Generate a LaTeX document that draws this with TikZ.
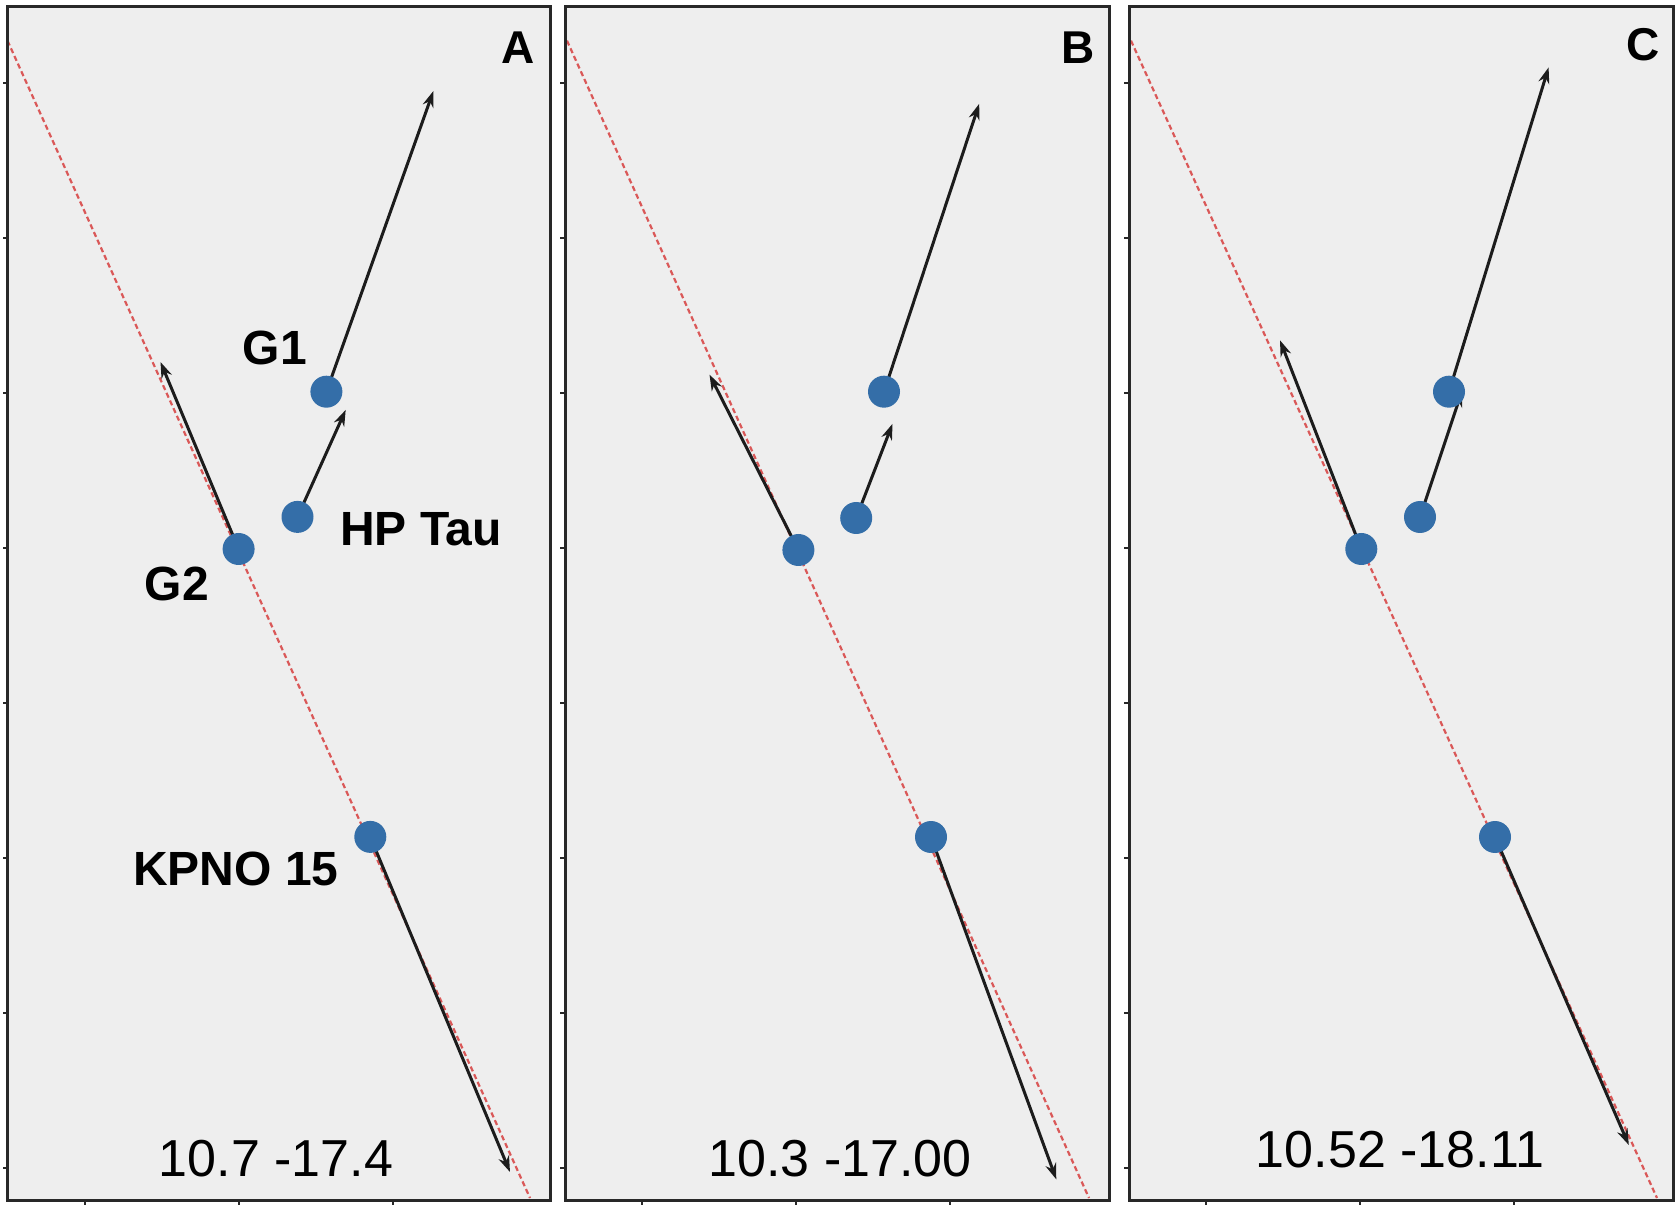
\documentclass[tikz,border=0pt]{standalone}
\usepackage{fontspec}
\setmainfont{Liberation Sans}
\usetikzlibrary{arrows.meta}
\definecolor{panelbg}{RGB}{238,238,238}
\definecolor{dotblue}{RGB}{52,110,168}
\definecolor{fitred}{RGB}{218,88,88}
\definecolor{vecgray}{RGB}{28,28,28}
\definecolor{framecol}{RGB}{40,40,40}
\begin{document}
\begin{tikzpicture}[x=0.5pt,y=-0.5pt,
  panelfill/.style={fill=panelbg},
  panelframe/.style={draw=framecol,line width=1.5pt},
  fitline/.style={fitred,line width=1.1pt,dash pattern=on 2.6pt off 1.6pt},
  vec/.style={vecgray,line width=1.5pt,-{Stealth[length=8pt,width=5.5pt]}},
  star/.style={circle,fill=dotblue,minimum size=16pt,inner sep=0pt},
  objname/.style={font=\fontsize{24}{28}\selectfont\bfseries,inner sep=0pt},
  coordtxt/.style={font=\fontsize{26}{30}\selectfont,inner sep=0pt},
  paneltag/.style={font=\fontsize{23}{27}\selectfont\bfseries,inner sep=0pt},
  tickmark/.style={framecol,line width=1pt}]
\useasboundingbox (0,0) rectangle (1678,1208);

% panel backgrounds
\fill[panelfill] (7.5,6.5) rectangle (550,1200);
\fill[panelfill] (565,6.5) rectangle (1109,1200);
\fill[panelfill] (1129,6.5) rectangle (1673,1200);

% fitted (dashed) lines
\coordinate (lA1) at (7.5,40.7);   \coordinate (lA2) at (530,1198);
\coordinate (lB1) at (567,40.7);   \coordinate (lB2) at (1089,1198);
\coordinate (lC1) at (1131,40.7);  \coordinate (lC2) at (1657,1198);
\draw[fitline] (lA1) -- (lA2);
\draw[fitline] (lB1) -- (lB2);
\draw[fitline] (lC1) -- (lC2);

% ---------- Panel A ----------
\coordinate (g1A) at (326.4,391.7);  \coordinate (g1Aend) at (433.4,91);
\coordinate (hpA) at (297.5,516.9);  \coordinate (hpAend) at (345.7,409.9);
\coordinate (g2A) at (238.6,549);    \coordinate (g2Aend) at (160.5,362);
\coordinate (kpA) at (370.3,836.9);  \coordinate (kpAend) at (510,1172);
\draw[vec] (g1A) -- (g1Aend);
\draw[vec] (hpA) -- (hpAend);
\draw[vec] (g2A) -- (g2Aend);
\draw[vec] (kpA) -- (kpAend);
\node[star] (G1A) at (g1A) {};
\node[star] (HPA) at (hpA) {};
\node[star] (G2A) at (g2A) {};
\node[star] (KPA) at (kpA) {};
\node[objname] (tG1) at (275,348) {G1};
\node[objname] (tHP) at (421,529) {HP Tau};
\node[objname] (tG2) at (177,584) {G2};
\node[objname] (tKP) at (236,869) {KPNO 15};
\node[coordtxt] (cA) at (276,1159) {10.7 -17.4};
\node[paneltag] (tagA) at (518,48) {A};

% ---------- Panel B ----------
\coordinate (g1B) at (884,391.7);    \coordinate (g1Bend) at (979.2,103.8);
\coordinate (hpB) at (856.2,518);    \coordinate (hpBend) at (892.5,423.8);
\coordinate (g2B) at (798.4,550);    \coordinate (g2Bend) at (709.5,374.6);
\coordinate (kpB) at (931,837);      \coordinate (kpBend) at (1056.3,1179.4);
\draw[vec] (g1B) -- (g1Bend);
\draw[vec] (hpB) -- (hpBend);
\draw[vec] (g2B) -- (g2Bend);
\draw[vec] (kpB) -- (kpBend);
\node[star] (G1B) at (g1B) {};
\node[star] (HPB) at (hpB) {};
\node[star] (G2B) at (g2B) {};
\node[star] (KPB) at (kpB) {};
\node[coordtxt] (cB) at (840,1159) {10.3 -17.00};
\node[paneltag] (tagB) at (1078,48) {B};

% ---------- Panel C ----------
\coordinate (g1C) at (1449,391.7);   \coordinate (g1Cend) at (1548.6,67.4);
\coordinate (hpC) at (1420,517);     \coordinate (hpCend) at (1462,391);
\coordinate (g2C) at (1361.3,549);   \coordinate (g2Cend) at (1280,340.3);
\coordinate (kpC) at (1495,837);     \coordinate (kpCend) at (1628.8,1145);
\draw[vec] (g1C) -- (g1Cend);
\draw[vec] (hpC) -- (hpCend);
\draw[vec] (g2C) -- (g2Cend);
\draw[vec] (kpC) -- (kpCend);
\node[star] (G1C) at (g1C) {};
\node[star] (HPC) at (hpC) {};
\node[star] (G2C) at (g2C) {};
\node[star] (KPC) at (kpC) {};
\node[coordtxt] (cC) at (1400,1150) {10.52 -18.11};
\node[paneltag] (tagC) at (1643,45) {C};

% frames and ticks
\draw[panelframe] (7.5,6.5) rectangle (550,1200);
\draw[panelframe] (565,6.5) rectangle (1109,1200);
\draw[panelframe] (1129,6.5) rectangle (1673,1200);
\foreach \x in {7.5,565,1129}{
  \foreach \y in {83,238,393,548,703,858,1013,1168}
    \draw[tickmark] (\x,\y) -- ++(-5,0);
  \foreach \dx in {77,231,385}
    \draw[tickmark] (\x+\dx,1200) -- ++(0,5);
}
\end{tikzpicture}
\end{document}
